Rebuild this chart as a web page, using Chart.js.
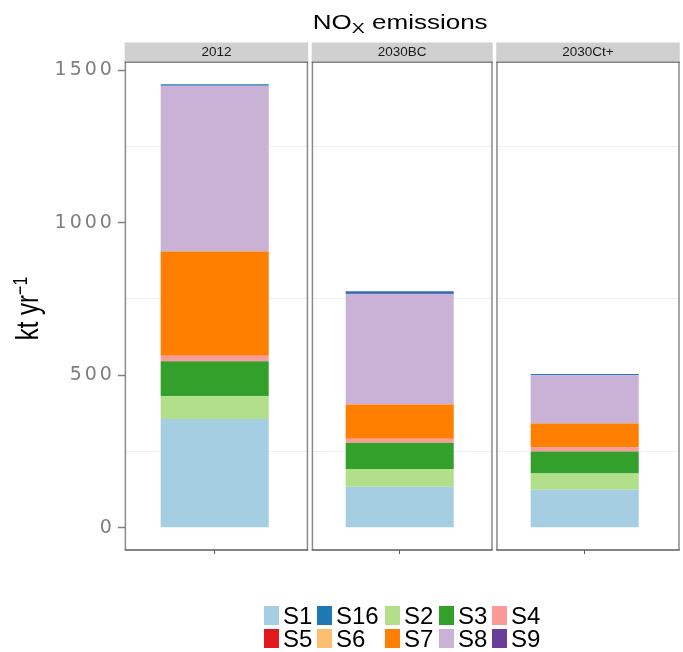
<!DOCTYPE html>
<html>
<head>
<meta charset="utf-8">
<title>NOx emissions</title>
<script src="https://cdn.jsdelivr.net/npm/chart.js@4/dist/chart.umd.min.js"></script>
<style>
  html, body { margin: 0; padding: 0; background: #fff; }
  #wrap { position: relative; width: 683px; height: 652px; }
  #legend {
    position: absolute; left: 264px; top: 605.5px;
    display: grid;
    grid-template-columns: 53px 68px 54px 53px auto;
    grid-auto-rows: 23.6px;
    font-family: "Liberation Sans", Arial, sans-serif;
    font-size: 24px; color: #000;
  }
  .item { display: flex; align-items: center; height: 19px; }
  .key { width: 15px; height: 19px; margin-right: 4px; flex: none; }
  .lab { line-height: 19px; white-space: nowrap; }
</style>
</head>
<body>
<div id="wrap">
  <canvas id="c" width="683" height="652"></canvas>
  <div id="legend"></div>
</div>
<script>
// Scenario facets
const facets = ['2012', '2030BC', '2030Ct+'];

// Emissions per sector, kt/yr, one value per facet
const S1  = [357, 135, 125];
const S2  = [74, 58, 53];
const S3  = [115, 86, 72];
const S4  = [18, 13, 14];
const S5  = [0, 0, 0];
const S6  = [0, 0, 0];
const S7  = [342, 112, 78];
const S8  = [543, 362, 158];
const S9  = [0, 3, 0];
const S16 = [5, 6, 4];

// Order of the legend keys and order of stacking (bottom to top)
const legendOrder = ['S1', 'S16', 'S2', 'S3', 'S4', 'S5', 'S6', 'S7', 'S8', 'S9'];
const stackOrder  = ['S1', 'S2', 'S3', 'S4', 'S5', 'S6', 'S7', 'S8', 'S9', 'S16'];

// Labelled y ticks (gridlines also at the halfway values)
const yTickLabels = [0, 500, 1000, 1500];

const sectorValues = { S1, S2, S3, S4, S5, S6, S7, S8, S9, S16 };
const sectorColours = {
  S1: '#A6CEE3', S16: '#1F78B4', S2: '#B2DF8A', S3: '#33A02C', S4: '#FB9A99',
  S5: '#E31A1C', S6: '#FDBF6F', S7: '#FF7F00', S8: '#CAB2D6', S9: '#6A3D9A'
};

// Panel geometry: the plot area split into one box per facet
const PANEL_GAP = 5;
function panelRects(chart) {
  const { left, right } = chart.chartArea;
  const n = facets.length;
  const bw = (right - left) / n;
  return facets.map((f, i) => ({
    x0: left + i * bw + (i > 0 ? PANEL_GAP / 2 : 0),
    x1: left + (i + 1) * bw - (i < n - 1 ? PANEL_GAP / 2 : 0)
  }));
}

const facetPlugin = {
  id: 'facets',
  beforeDraw(chart) {
    // wide-set axis numbers
    chart.ctx.letterSpacing = '3px';
  },
  beforeDatasetsDraw(chart) {
    const ctx = chart.ctx;
    ctx.letterSpacing = '0px';
    const { top, bottom } = chart.chartArea;
    const p = panelRects(chart);
    ctx.save();
    ctx.fillStyle = '#ffffff';
    for (let i = 0; i < p.length - 1; i++) {
      ctx.fillRect(p[i].x1, top - 1, p[i + 1].x0 - p[i].x1, bottom - top + 2);
    }
    ctx.restore();
  },
  afterDatasetsDraw(chart) {
    const ctx = chart.ctx;
    const { top, bottom, left, right } = chart.chartArea;
    const p = panelRects(chart);
    ctx.save();
    ctx.letterSpacing = '0px';

    // panel borders
    p.forEach(r => {
      ctx.lineWidth = 1.5;
      ctx.strokeStyle = '#8a8a8a';
      ctx.beginPath();
      ctx.moveTo(r.x0, top); ctx.lineTo(r.x0, bottom);
      ctx.moveTo(r.x1, top); ctx.lineTo(r.x1, bottom);
      ctx.stroke();
      ctx.strokeStyle = '#5e5e5e';
      ctx.beginPath();
      ctx.moveTo(r.x0 - 0.75, top); ctx.lineTo(r.x1 + 0.75, top);
      ctx.moveTo(r.x0 - 0.75, bottom); ctx.lineTo(r.x1 + 0.75, bottom);
      ctx.stroke();
    });

    // facet strips
    const stripTop = top - 19.5;
    p.forEach((r, i) => {
      ctx.fillStyle = '#d0d0d0';
      ctx.fillRect(r.x0 - 0.75, stripTop, r.x1 - r.x0 + 1.5, 19);
      ctx.fillStyle = '#1a1a1a';
      ctx.font = '13.5px "Liberation Sans", Arial, sans-serif';
      ctx.textAlign = 'center';
      ctx.textBaseline = 'middle';
      ctx.fillText(facets[i], (r.x0 + r.x1) / 2, stripTop + 10);
    });

    // main title: NO with subscript X
    ctx.fillStyle = '#000';
    ctx.textAlign = 'left';
    ctx.textBaseline = 'alphabetic';
    const big = '20px "Liberation Sans", Arial, sans-serif';
    const small = '15px "Liberation Sans", Arial, sans-serif';
    ctx.font = big; const wNO = ctx.measureText('NO').width;
    const wRest = ctx.measureText(' emissions').width;
    ctx.font = small; const wX = ctx.measureText('X').width;
    const total = wNO + wX + wRest;
    ctx.save();
    ctx.translate((left + right) / 2 - 2, 29);
    ctx.scale(1.3, 1);
    let x = -total / 2;
    ctx.font = big; ctx.fillText('NO', x, 0); x += wNO;
    ctx.font = small; ctx.fillText('X', x, 4); x += wX;
    ctx.font = big; ctx.fillText(' emissions', x, 0);
    ctx.restore();

    // y axis title: kt yr^-1
    const yBig = '24px "Liberation Sans", Arial, sans-serif';
    const ySmall = '16px "Liberation Sans", Arial, sans-serif';
    ctx.font = yBig; const wUnit = ctx.measureText('kt yr').width;
    ctx.font = ySmall; const wSup = ctx.measureText('\u22121').width;
    const yTot = wUnit + wSup;
    ctx.save();
    ctx.translate(37.5, 308.5);
    ctx.scale(1.3, 1);
    ctx.rotate(-Math.PI / 2);
    ctx.font = yBig; ctx.fillText('kt yr', -yTot / 2, 0);
    ctx.font = ySmall; ctx.fillText('\u22121', -yTot / 2 + wUnit, -8);
    ctx.restore();

    ctx.restore();
  }
};

// one bar per facet, placed at the facet's index on a linear x axis
const datasets = stackOrder.map(name => ({
  label: name,
  data: facets.map((f, i) => ({ x: i, y: sectorValues[name][i] })),
  backgroundColor: sectorColours[name],
  borderWidth: 0,
  barPercentage: 0.584,
  categoryPercentage: 1.0
}));

new Chart(document.getElementById('c'), {
  type: 'bar',
  data: { datasets },
  plugins: [facetPlugin],
  options: {
    responsive: false,
    animation: false,
    events: [],
    layout: { padding: { left: 0, right: 4, top: 62, bottom: 96 } },
    plugins: { legend: { display: false }, title: { display: false }, tooltip: { enabled: false } },
    scales: {
      x: {
        type: 'linear',
        stacked: true,
        min: -0.4827,
        max: 2.5097,
        offset: false,
        border: { display: false },
        grid: { display: true, offset: false, drawOnChartArea: false, drawTicks: true, tickLength: 4, tickColor: '#5e5e5e' },
        ticks: { display: false, stepSize: 1, includeBounds: false },
        afterFit: s => { s.height = 6; }
      },
      y: {
        stacked: true,
        min: -72.7,
        max: 1526.7,
        border: { display: false },
        grid: {
          color: c => (c.tick && yTickLabels.includes(c.tick.value)) ? '#ffffff' : '#f1f1f1',
          lineWidth: 1,
          tickLength: 7.5,
          tickWidth: 1.5,
          tickColor: c => (c.tick && yTickLabels.includes(c.tick.value)) ? '#7f7f7f' : 'rgba(0,0,0,0)'
        },
        ticks: {
          stepSize: 250,
          includeBounds: false,
          autoSkip: false,
          padding: 3,
          color: '#7f7f7f',
          font: { family: '"DejaVu Sans", sans-serif', size: 19 },
          callback: v => yTickLabels.includes(v) ? String(v) : ''
        },
        afterFit: s => { s.width = 125.4; }
      }
    }
  }
});

// legend keys
const legendEl = document.getElementById('legend');
legendOrder.forEach(name => {
  const item = document.createElement('div');
  item.className = 'item';
  const key = document.createElement('span');
  key.className = 'key';
  key.style.background = sectorColours[name];
  const lab = document.createElement('span');
  lab.className = 'lab';
  lab.textContent = name;
  item.appendChild(key);
  item.appendChild(lab);
  legendEl.appendChild(item);
});
</script>
</body>
</html>
